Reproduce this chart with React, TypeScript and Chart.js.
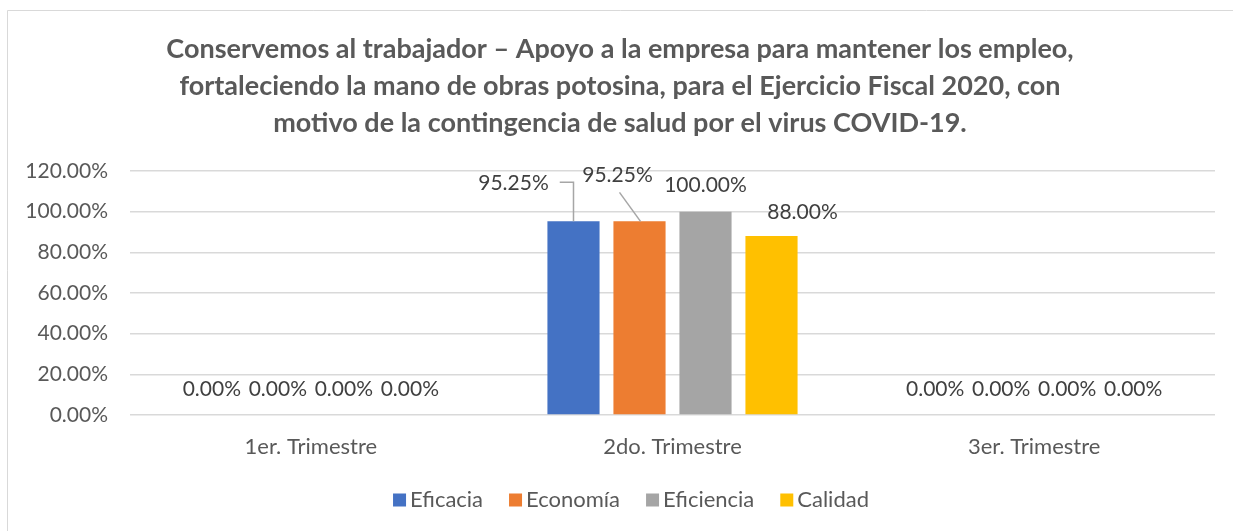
import React, { useEffect, useRef } from "react";
import { Chart, registerables } from "chart.js";

Chart.register(...registerables);

const categories = ["1er. Trimestre", "2do. Trimestre", "3er. Trimestre"];
const seriesNames = ["Eficacia", "Economía", "Eficiencia", "Calidad"];
const eficacia = [0, 95.25, 0];
const economia = [0, 95.25, 0];
const eficiencia = [0, 100, 0];
const calidad = [0, 88, 0];
const seriesValues = [eficacia, economia, eficiencia, calidad];
const seriesColors = ["#4472C4", "#ED7D31", "#A5A5A5", "#FFC000"];
const titleLines = [
  "Conservemos al trabajador – Apoyo a la empresa para mantener los empleo,",
  "fortaleciendo la mano de obras potosina, para el Ejercicio Fiscal 2020, con",
  "motivo de la contingencia de salud por el virus COVID-19.",
];
const yMin = 0;
const yMax = 120;
const yStep = 20;

const FONT = "Lato, 'Open Sans', sans-serif";
const W = 1233;
const H = 531;
const TEXT = "#595959";
const LABEL = "#404040";

// label offsets [dataset-index] relative to bar top (dx, dy)
const labelOffsets: Record<string, [number, number]> = {
  "0-1": [-60, -38],
  "1-1": [-22, -46],
  "3-1": [31, -24],
};

const fmt = (v: number) => v.toFixed(2) + "%";

const decorPlugin = {
  id: "decor",
  beforeDraw(chart: any) {
    const ctx = chart.ctx;
    ctx.save();
    ctx.fillStyle = "#ffffff";
    ctx.fillRect(0, 0, W, H);
    ctx.strokeStyle = "#d9d9d9";
    ctx.lineWidth = 1;
    ctx.beginPath();
    ctx.moveTo(7.5, H);
    ctx.lineTo(7.5, 10.5);
    ctx.lineTo(W, 10.5);
    ctx.stroke();
    // title
    ctx.fillStyle = TEXT;
    ctx.font = `bold 27px ${FONT}`;
    ctx.textAlign = "center";
    ctx.textBaseline = "middle";
    const cx = 620;
    titleLines.forEach((t, i) => ctx.fillText(t, cx, 49 + i * 37));
    ctx.restore();
  },
  afterDatasetsDraw(chart: any) {
    const ctx = chart.ctx;
    ctx.save();
    ctx.font = `21px ${FONT}`;
    ctx.fillStyle = LABEL;
    ctx.textAlign = "center";
    ctx.textBaseline = "middle";
    chart.data.datasets.forEach((ds: any, di: number) => {
      const meta = chart.getDatasetMeta(di);
      meta.data.forEach((bar: any, i: number) => {
        const off = labelOffsets[`${di}-${i}`] || [0, -26];
        const lx = bar.x + off[0];
        const ly = bar.y + off[1];
        const text = fmt(ds.data[i]);
        ctx.fillStyle = LABEL;
        ctx.fillText(text, lx, ly);
        if (di === 0 && i === 1) {
          const w = ctx.measureText(text).width;
          ctx.strokeStyle = "#A6A6A6";
          ctx.lineWidth = 1.5;
          ctx.beginPath();
          ctx.moveTo(lx + w / 2 + 11, ly - 1);
          ctx.lineTo(bar.x, ly - 1);
          ctx.lineTo(bar.x, bar.y);
          ctx.stroke();
        }
        if (di === 1 && i === 1) {
          ctx.strokeStyle = "#A6A6A6";
          ctx.lineWidth = 1.5;
          ctx.beginPath();
          ctx.moveTo(lx + 2, ly + 17);
          ctx.lineTo(bar.x + 1, bar.y);
          ctx.stroke();
        }
      });
    });
    ctx.restore();
  },
  afterDraw(chart: any) {
    const ctx = chart.ctx;
    ctx.save();
    ctx.font = `22px ${FONT}`;
    ctx.textBaseline = "middle";
    ctx.textAlign = "left";
    const box = 13;
    const gapBoxText = 4;
    const gapItems = 26;
    const items = chart.data.datasets.map((d: any) => ({
      label: d.label,
      color: d.backgroundColor,
      w: ctx.measureText(d.label).width,
    }));
    const total =
      items.reduce((s: number, it: any) => s + box + gapBoxText + it.w, 0) +
      gapItems * (items.length - 1);
    let x = 631 - total / 2;
    const y = 500;
    items.forEach((it: any) => {
      ctx.fillStyle = it.color;
      ctx.fillRect(x, y - box / 2, box, box);
      x += box + gapBoxText;
      ctx.fillStyle = TEXT;
      ctx.fillText(it.label, x, y);
      x += it.w + gapItems;
    });
    ctx.restore();
  },
};

export default function App() {
  const ref = useRef<HTMLCanvasElement | null>(null);
  useEffect(() => {
    if (!ref.current) return;
    const chart = new Chart(ref.current, {
      type: "bar",
      data: {
        labels: categories,
        datasets: seriesNames.map((name, i) => ({
          label: name,
          data: seriesValues[i],
          backgroundColor: seriesColors[i],
          borderWidth: 0,
          barPercentage: 0.79,
          categoryPercentage: 0.73,
        })),
      },
      options: {
        animation: false,
        responsive: false,
        devicePixelRatio: 1,
        layout: { padding: { top: 171, right: 18, bottom: 71, left: 0 } },
        plugins: {
          legend: { display: false },
          title: { display: false },
          tooltip: { enabled: false },
        },
        scales: {
          x: {
            grid: { display: false, drawTicks: false },
            border: { display: false },
            ticks: { color: TEXT, font: { family: FONT, size: 22 }, padding: 19 },
            afterFit: (s: any) => {
              s.height = 45;
            },
          },
          y: {
            min: yMin,
            max: yMax,
            grid: { color: "#D9D9D9", lineWidth: 1.5, drawTicks: false },
            border: { display: false },
            ticks: {
              stepSize: yStep,
              color: TEXT,
              font: { family: FONT, size: 21 },
              padding: 22,
              callback: (v: any) => fmt(Number(v)),
            },
            afterFit: (s: any) => {
              s.width = 130;
            },
          },
        },
      },
      plugins: [decorPlugin],
    });
    return () => chart.destroy();
  }, []);
  return (
    <div style={{ position: "fixed", left: 0, top: 0, width: W, height: H, background: "#fff" }}>
      <canvas ref={ref} width={W} height={H} style={{ display: "block", width: W, height: H }} />
    </div>
  );
}
